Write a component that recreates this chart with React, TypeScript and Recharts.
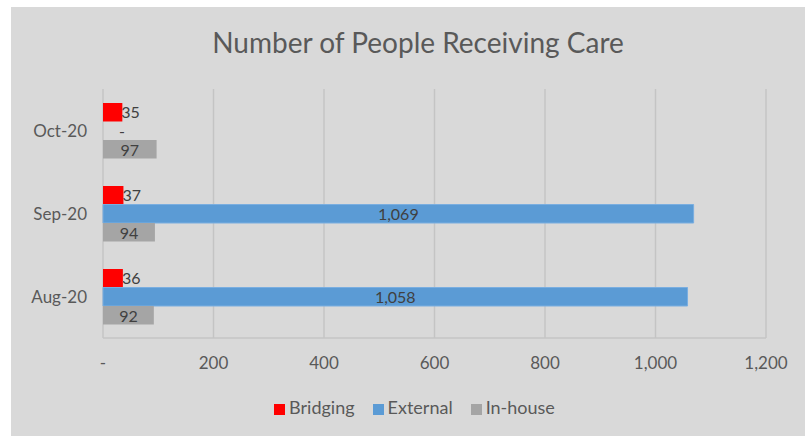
import {
  BarChart,
  Bar,
  XAxis,
  YAxis,
  CartesianGrid,
  Legend,
  LabelList,
} from "recharts";

const months = ["Oct-20", "Sep-20", "Aug-20"];
const bridging = [35, 37, 36];
const external = [0, 1069, 1058];
const inHouse = [97, 94, 92];
const xTicks = [0, 200, 400, 600, 800, 1000, 1200];

const FONT = "Lato, 'Open Sans', sans-serif";
const fmt = (v: number) => (v === 0 ? "-" : v.toLocaleString("en-US"));

const data = months.map((m, i) => ({
  month: m,
  Bridging: bridging[i],
  External: external[i],
  "In-house": inHouse[i],
}));

const labelText = (x: number, y: number, text: string) => (
  <text
    x={x}
    y={y}
    textAnchor="middle"
    dominantBaseline="central"
    fill="#404040"
    fontSize={16}
    fontFamily={FONT}
  >
    {text}
  </text>
);

// in-house label; also draws the "-" for a zero External bar sitting just above it
const renderInHouseLabel = (props: any) => {
  const { x, y, width, height, value, index } = props;
  const cy = y + height / 2;
  const ext = data[index]?.External;
  return (
    <g>
      {labelText(x + width / 2, cy, fmt(value))}
      {ext === 0 ? labelText(x + 19, cy - height, "-") : null}
    </g>
  );
};

const renderExternalLabel = (props: any) => {
  const { x, y, width, height, value } = props;
  if (!value) return null;
  return labelText(x + width / 2, y + height / 2, fmt(value));
};

export default function App() {
  return (
    <div
      style={{
        position: "absolute",
        left: 11,
        top: 7,
        width: 794,
        height: 429,
        background: "#d9d9d9",
        fontFamily: FONT,
      }}
    >
      <div
        style={{
          position: "absolute",
          top: 18,
          left: 10,
          width: 794,
          textAlign: "center",
          fontSize: 28,
          color: "#595959",
        }}
      >
        Number of People Receiving Care
      </div>
      <BarChart
        width={794}
        height={429}
        data={data}
        layout="vertical"
        margin={{ top: 82, right: 39, bottom: 0, left: 0 }}
        barGap={0}
        barSize={18.5}
      >
        <CartesianGrid horizontal={false} stroke="#c4c4c4" strokeWidth={1.5} />
        <XAxis
          type="number"
          domain={[0, 1200]}
          ticks={xTicks}
          tickFormatter={fmt}
          axisLine={{ stroke: "#c4c4c4", strokeWidth: 1.5 }}
          tickLine={false}
          tickSize={0}
          tickMargin={19}
          height={76}
          tick={{ fill: "#595959", fontSize: 17, fontFamily: FONT }}
        />
        <YAxis
          type="category"
          dataKey="month"
          width={92}
          axisLine={false}
          tickLine={false}
          tickSize={0}
          tickMargin={16}
          tick={{ fill: "#595959", fontSize: 17, fontFamily: FONT }}
        />
        <Legend
          verticalAlign="bottom"
          iconType="square"
          iconSize={11}
          wrapperStyle={{ bottom: 18, left: 35, fontSize: 18, fontFamily: FONT }}
          formatter={(value: string) => (
            <span style={{ color: "#595959", marginRight: 8 }}>{value}</span>
          )}
        />
        <Bar dataKey="Bridging" fill="#ff0000" isAnimationActive={false}>
          <LabelList
            dataKey="Bridging"
            position="right"
            offset={-1}
            fill="#404040"
            fontSize={16}
            fontFamily={FONT}
          />
        </Bar>
        <Bar dataKey="External" fill="#5b9bd5" stroke="#7aaee0" strokeWidth={1} isAnimationActive={false}>
          <LabelList dataKey="External" content={renderExternalLabel} />
        </Bar>
        <Bar dataKey="In-house" fill="#a5a5a5" isAnimationActive={false}>
          <LabelList dataKey="In-house" content={renderInHouseLabel} />
        </Bar>
      </BarChart>
    </div>
  );
}
